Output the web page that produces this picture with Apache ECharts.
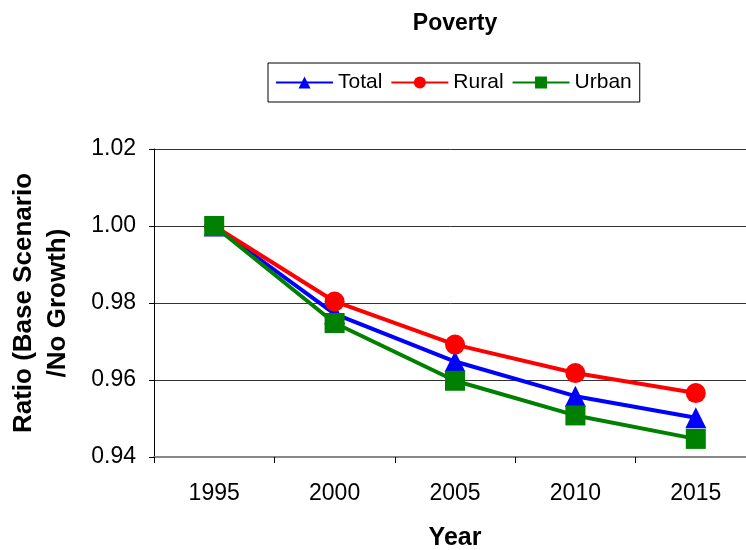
<!DOCTYPE html>
<html><head><meta charset="utf-8">
<script src="https://cdn.jsdelivr.net/npm/echarts@6/dist/echarts.min.js"></script>
<style>html,body{margin:0;padding:0;background:#fff}#c{width:746px;height:550px}</style>
</head><body><div id="c"></div>
<script>
const years = ['1995','2000','2005','2010','2015'];
const total = [1.000, 0.9772, 0.9648, 0.9558, 0.9502];
const rural = [1.000, 0.9804, 0.9692, 0.9618, 0.9566];
const urban = [1.000, 0.9748, 0.9598, 0.9508, 0.9447];
const yTicks = [0.94, 0.96, 0.98, 1.00, 1.02];

const font = 'Liberation Sans, Arial, sans-serif';
const chart = echarts.init(document.getElementById('c'));
function ser(name, data, color, symbol, size) {
  return {name, type:'line', data, symbol, symbolSize:size, showAllSymbol:true,
    lineStyle:{color, width:4}, itemStyle:{color}, emphasis:{disabled:true}, animation:false};
}
chart.setOption({
  animation:false,
  title:{text:'Poverty', left:450, top:7, textAlign:'center',
    textStyle:{fontFamily:font, fontSize:23, fontWeight:'bold', color:'#000'}},
  legend:{left:268, top:63, padding:[9,8,9,7], itemGap:8,
    borderColor:'#000', borderWidth:1, itemWidth:57, itemHeight:15,
    textStyle:{fontFamily:font, fontSize:21, color:'#000'},
    data:['Total','Rural','Urban']},
  grid:{left:154, top:149, width:602, height:308, containLabel:false, outerBoundsMode:'none'},
  xAxis:{type:'category', data:years, boundaryGap:true, name:'Year', nameLocation:'middle', nameGap:69,
    nameTextStyle:{fontFamily:font, fontSize:25, fontWeight:'bold', color:'#000'},
    axisLine:{lineStyle:{color:'#888', width:2}}, axisTick:{show:true, length:6, lineStyle:{color:'#000'}},
    axisLabel:{fontFamily:font, fontSize:23, color:'#000', margin:25}},
  yAxis:{type:'value', min:0.94, max:1.02, interval:0.02, name:'Ratio (Base Scenario\n/No Growth)',
    nameLocation:'middle', nameGap:79, nameRotate:90,
    nameTextStyle:{fontFamily:font, fontSize:26, fontWeight:'bold', color:'#000', lineHeight:34},
    axisLine:{show:true, lineStyle:{color:'#000', width:1}}, axisTick:{show:true, length:5, lineStyle:{color:'#000'}},
    axisLabel:{fontFamily:font, fontSize:23, color:'#000', margin:18,
      formatter:v=>{const t=yTicks.find(x=>Math.abs(x-v)<1e-6);return (t!==undefined?t:v).toFixed(2);}},
    splitLine:{lineStyle:{color:'#333', width:1}}},
  series:[
    ser('Total', total, '#0000ff', 'triangle', 21),
    ser('Rural', rural, '#ff0000', 'circle', 20),
    ser('Urban', urban, '#008000', 'rect', 20)
  ]
});
</script></body></html>
